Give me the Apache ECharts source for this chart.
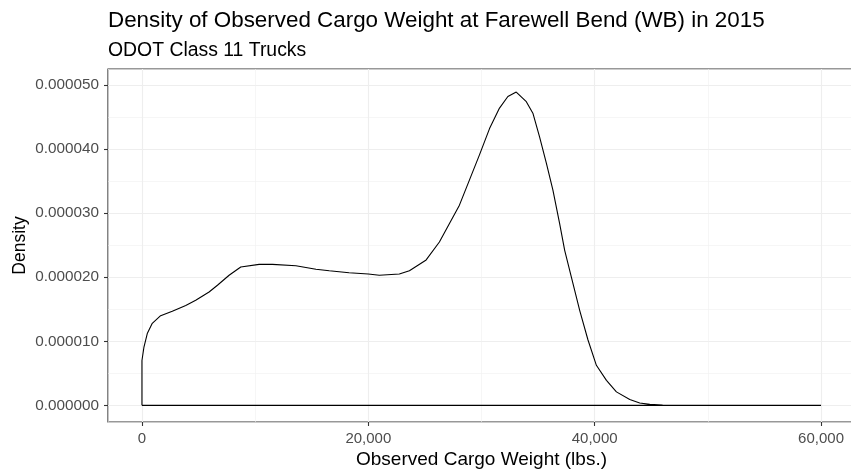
<!DOCTYPE html>
<html><head><meta charset="utf-8">
<script src="https://cdn.jsdelivr.net/npm/echarts@6/dist/echarts.min.js"></script>
<style>html,body{margin:0;padding:0;background:#fff}#c{width:851px;height:473px}</style>
</head><body><div id="c"></div>
<script>
// Density curve (outline of geom_density polygon), x in lbs, y density
const curveX = [0, 0, 177, 470, 912, 1650, 2680, 3870, 4750, 5930, 6670, 7700, 8730, 10350, 11530, 13600, 15370, 16550, 18300, 20000, 20970, 22740, 23630, 25110, 26280, 27170, 28050, 28940, 29820, 30710, 31590, 32330, 33070, 33960, 34540, 35130, 35730, 36310, 36900, 37350, 37940, 38680, 39410, 40150, 41040, 41920, 43100, 43980, 44870, 46000, 48000, 60000, 60000, 0];
const curveY = [0, 7.0e-6, 9.1e-6, 11.2e-6, 12.8e-6, 14.0e-6, 14.7e-6, 15.6e-6, 16.4e-6, 17.7e-6, 18.75e-6, 20.3e-6, 21.6e-6, 22.0e-6, 22.0e-6, 21.8e-6, 21.25e-6, 21.0e-6, 20.7e-6, 20.5e-6, 20.3e-6, 20.5e-6, 21.0e-6, 22.7e-6, 25.5e-6, 28.4e-6, 31.25e-6, 35.2e-6, 39.1e-6, 43.2e-6, 46.4e-6, 48.2e-6, 48.9e-6, 47.4e-6, 45.6e-6, 41.9e-6, 37.8e-6, 33.6e-6, 28.4e-6, 24.2e-6, 20.0e-6, 14.8e-6, 10.2e-6, 6.25e-6, 3.9e-6, 2.1e-6, 0.9e-6, 0.36e-6, 0.15e-6, 0.04e-6, 0.0, 0.0, 0, 0];
const xTicks = [0, 20000, 40000, 60000];
const yTicks = [0, 0.00001, 0.00002, 0.00003, 0.00004, 0.00005];

const titleText = 'Density of Observed Cargo Weight at Farewell Bend (WB) in 2015';
const subtitleText = 'ODOT Class 11 Trucks';
const xTitle = 'Observed Cargo Weight (lbs.)';
const yTitle = 'Density';

const font = '"Liberation Sans", Arial, sans-serif';
const chart = echarts.init(document.getElementById('c'), null, {renderer: 'canvas'});
const data = curveX.map((x, i) => [x, curveY[i]]);
const grid = {left: 108, width: 747, top: 69, height: 353, outerBoundsMode: 'none', containLabel: false,
  show: true, borderColor: '#333333', borderWidth: 1.2, backgroundColor: 'transparent'};

const xLabelFmt = v => {
  const hit = xTicks.find(t => Math.abs(t - v) < 1);
  return hit === undefined ? '' : hit.toLocaleString('en-US');
};
const yLabelFmt = v => {
  const hit = yTicks.find(t => Math.abs(t - v) < 1e-9);
  return hit === undefined ? '' : hit.toFixed(6);
};

chart.setOption({
  animation: false,
  title: {
    text: titleText, subtext: subtitleText, left: 103, top: 5, itemGap: 9,
    textStyle: {fontFamily: font, fontSize: 22.4, fontWeight: 'normal', color: '#000'},
    subtextStyle: {fontFamily: font, fontSize: 19.4, color: '#000'}
  },
  grid: grid,
  xAxis: [{
    type: 'value', min: -3000, max: 63000, splitNumber: 3,
    axisLine: {show: false, onZero: false},
    axisTick: {show: true, length: 4, lineStyle: {color: '#333333', width: 1.1}, customValues: xTicks},
    axisLabel: {show: true, margin: 9, color: '#4D4D4D', fontFamily: font, fontSize: 15,
      customValues: xTicks, formatter: xLabelFmt},
    splitLine: {show: true, lineStyle: {color: '#EBEBEB', width: 1.1}},
    name: xTitle, nameLocation: 'middle', nameGap: 28, nameMoveOverlap: false,
    nameTextStyle: {fontFamily: font, fontSize: 19, color: '#000'}
  }, {
    type: 'value', min: -3000, max: 63000, splitNumber: 6, position: 'bottom',
    axisLine: {show: false, onZero: false}, axisTick: {show: false}, axisLabel: {show: false},
    splitLine: {show: true, lineStyle: {color: '#F0F0F0', width: 0.6}}
  }],
  yAxis: [{
    type: 'value', min: -0.0000026, max: 0.0000525, splitNumber: 5,
    axisLine: {show: false, onZero: false},
    axisTick: {show: true, length: 4, lineStyle: {color: '#333333', width: 1.1}, customValues: yTicks},
    axisLabel: {show: true, margin: 9, color: '#4D4D4D', fontFamily: font, fontSize: 15.3,
      customValues: yTicks, formatter: yLabelFmt},
    splitLine: {show: true, lineStyle: {color: '#EBEBEB', width: 1.1}},
    name: yTitle, nameLocation: 'middle', nameGap: 79, nameRotate: 90, nameMoveOverlap: false,
    nameTextStyle: {fontFamily: font, fontSize: 17.5, color: '#000'}
  }, {
    type: 'value', min: -0.0000026, max: 0.0000525, splitNumber: 10,
    axisLine: {show: false, onZero: false}, axisTick: {show: false}, axisLabel: {show: false},
    splitLine: {show: true, lineStyle: {color: '#F0F0F0', width: 0.6}}
  }],
  series: [{
    type: 'line', xAxisIndex: 0, yAxisIndex: 0, data: data,
    showSymbol: false, symbol: 'none', smooth: false,
    lineStyle: {color: '#000', width: 1.1}, z: 5
  }]
});
</script></body></html>
